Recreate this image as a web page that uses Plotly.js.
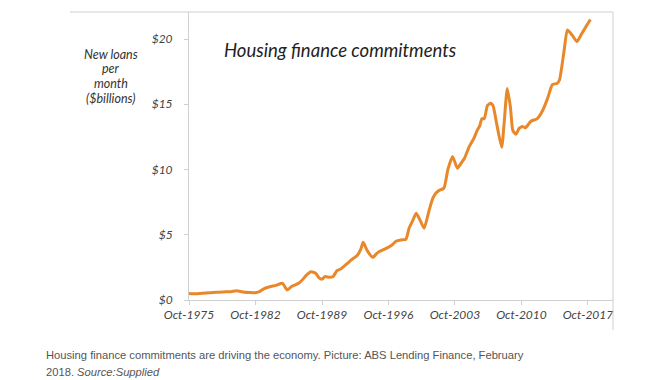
<!DOCTYPE html>
<html>
<head>
<meta charset="utf-8">
<script src="https://cdn.plot.ly/plotly-3.0.1.min.js"></script>
<style>html,body{margin:0;padding:0;background:#fff;}#chart{width:650px;height:380px;}</style>
</head>
<body>
<div id="chart"></div>
<script>
// Monthly housing finance commitments, $ billions
const months = [
  '1975-10','1976-06','1977-03','1977-12','1978-09','1979-06','1980-03','1980-10','1981-06','1982-03',
  '1982-09','1983-03','1983-09','1984-04','1984-12','1985-08','1986-02','1986-08','1987-05','1987-09',
  '1988-03','1988-08','1989-02','1989-06','1989-10','1990-02','1990-07','1990-12','1991-05','1991-09',
  '1992-02','1992-07','1992-11','1993-03','1993-07','1993-11','1994-02','1994-07','1995-02','1995-07',
  '1995-10','1996-07','1997-02','1997-08','1998-02','1998-08','1998-12','1999-04','1999-09','2000-02',
  '2000-07','2001-01','2001-06','2001-10','2002-02','2002-08','2003-01','2003-07','2004-01','2004-06',
  '2004-10','2005-04','2005-10','2006-02','2006-05','2006-08','2006-11','2007-03','2007-07','2007-10',
  '2008-03','2008-09','2008-12','2009-04','2009-08','2009-11','2010-03','2010-07','2010-11','2011-03',
  '2011-10','2012-06','2013-01','2013-07','2014-01','2014-07','2014-10','2015-04','2015-08','2016-02',
  '2016-08','2017-02','2017-07','2018-01'
];
const loans = [
  0.50,0.47,0.52,0.55,0.60,0.62,0.64,0.71,0.62,0.57,
  0.56,0.65,0.88,1.02,1.12,1.28,0.77,1.05,1.30,1.53,
  1.95,2.17,2.05,1.72,1.60,1.80,1.74,1.80,2.25,2.35,
  2.60,2.85,3.07,3.25,3.45,3.90,4.42,3.80,3.27,3.55,
  3.70,3.96,4.20,4.52,4.60,4.65,5.50,6.00,6.64,6.10,
  5.49,6.80,7.80,8.20,8.40,8.56,10.00,11.00,10.10,10.50,
  10.86,11.75,12.40,13.00,13.30,13.90,13.90,14.90,15.07,14.90,
  13.40,11.70,13.50,16.20,14.80,13.00,12.70,13.15,13.30,13.20,
  13.70,13.90,14.56,15.45,16.50,16.60,16.86,19.16,20.70,20.30,
  19.80,20.40,20.90,21.50
];
const xTickVals = ['1975-10-01','1982-10-01','1989-10-01','1996-10-01','2003-10-01','2010-10-01','2017-10-01'];
const xTickText = ['Oct-1975','Oct-1982','Oct-1989','Oct-1996','Oct-2003','Oct-2010','Oct-2017'];
const yTickVals = [0, 5, 10, 15, 20];
const yTickText = ['$0','$5','$10','$15','$20'];
const yTitleLines = ['New loans', 'per', 'month', '($billions)'];

const fam = 'Lato, "Open Sans", sans-serif';
const tickFont = {family: fam, size: 12, style: 'italic', color: '#444'};

const trace = {
  x: months, y: loans, type: 'scatter', mode: 'lines',
  line: {color: '#E8882A', width: 3, shape: 'spline', smoothing: 0.5},
  hoverinfo: 'skip'
};

const annotations = [
  {text: 'Housing finance commitments', xref: 'paper', yref: 'paper',
   x: (222-189)/424, y: (300-50)/288, xanchor: 'left', yanchor: 'middle', showarrow: false,
   font: {family: fam, size: 18.5, style: 'italic', color: '#222'}},
  {text: 'Housing finance commitments are driving the economy. Picture: ABS Lending Finance, February',
   xref: 'paper', yref: 'paper', x: (44-189)/424, y: (300-355)/288, xanchor: 'left', yanchor: 'middle',
   showarrow: false, font: {family: '"Liberation Sans", Arial, sans-serif', size: 11.2, color: '#555'}},
  {text: '2018. <i>Source:Supplied</i>',
   xref: 'paper', yref: 'paper', x: (44-189)/424, y: (300-372)/288, xanchor: 'left', yanchor: 'middle',
   showarrow: false, font: {family: '"Liberation Sans", Arial, sans-serif', size: 11.2, color: '#555'}}
];
yTitleLines.forEach((t, i) => {
  annotations.push({text: t, xref: 'paper', yref: 'paper',
    x: (111-189)/424, y: (300-(54 + i*14.7))/288, xanchor: 'center', yanchor: 'middle', showarrow: false,
    font: {family: fam, size: 12.5, style: 'italic', color: '#333'}});
});

const layout = {
  width: 650, height: 380,
  margin: {l: 189, r: 37, t: 12, b: 80, pad: 0},
  paper_bgcolor: '#fff', plot_bgcolor: '#fff',
  showlegend: false,
  xaxis: {
    type: 'date', range: ['1975-10-01', '2020-05-20'],
    tickmode: 'array', tickvals: xTickVals, ticktext: xTickText,
    showgrid: false, zeroline: false,
    showline: true, linecolor: '#d0d0d0', linewidth: 1,
    ticks: 'outside', ticklen: 4, tickcolor: '#d0d0d0',
    tickfont: tickFont, ticklabelstandoff: 0
  },
  yaxis: {
    range: [0, 22.07],
    tickmode: 'array', tickvals: yTickVals, ticktext: yTickText,
    showgrid: false, zeroline: false,
    showline: true, linecolor: '#d0d0d0', linewidth: 1,
    ticks: 'outside', ticklen: 4, tickcolor: '#d0d0d0',
    tickfont: tickFont, ticklabelstandoff: 9
  },
  shapes: [
    {type: 'line', xref: 'paper', yref: 'paper', x0: (70-189)/424, x1: 1, y0: 1, y1: 1,
     line: {color: '#cfcfcf', width: 1}},
    {type: 'line', xref: 'paper', yref: 'paper', x0: 1, x1: 1, y0: (300-330)/288, y1: 1,
     line: {color: '#cfcfcf', width: 1}}
  ],
  annotations: annotations
};

Plotly.newPlot('chart', [trace], layout, {displayModeBar: false, staticPlot: true});
</script>
</body>
</html>
